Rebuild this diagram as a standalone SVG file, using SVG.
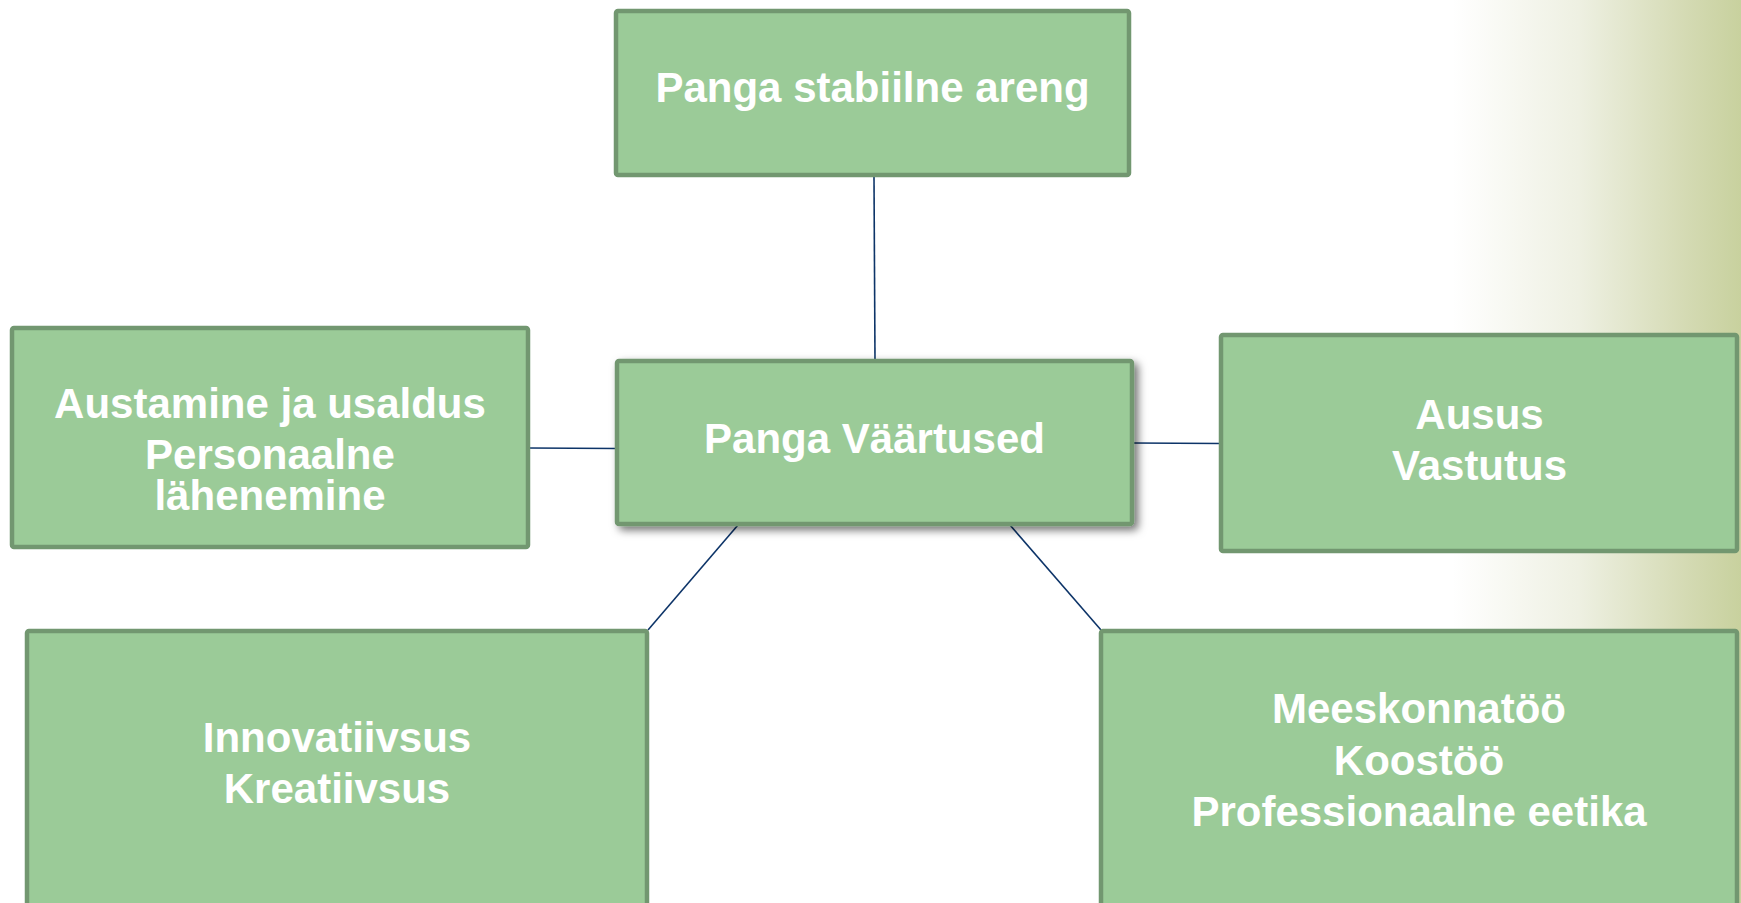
<svg xmlns="http://www.w3.org/2000/svg" width="1741" height="903" viewBox="0 0 1741 903">
<defs>
<linearGradient id="bg" x1="0" y1="0" x2="1" y2="0" gradientUnits="objectBoundingBox">
<stop offset="0" stop-color="#ffffff"/>
<stop offset="0.2" stop-color="#ffffff"/>
<stop offset="0.55" stop-color="#eef0e2"/>
<stop offset="0.85" stop-color="#d4dab3"/>
<stop offset="1" stop-color="#c8d19e"/>
</linearGradient>
<filter id="sh" x="-10%" y="-20%" width="125%" height="150%">
<feDropShadow dx="4" dy="4" stdDeviation="4" flood-color="#000" flood-opacity="0.55"/>
</filter>
<style>
.box{fill:#9bcb98;stroke:#729770;stroke-width:4.5}
.t{font-family:"Liberation Sans",Arial,sans-serif;font-weight:bold;font-size:42px;fill:#ffffff;text-anchor:middle}
.c{stroke:#0d3468;stroke-width:1.6;fill:none}
</style>
</defs>
<rect x="0" y="0" width="1741" height="903" fill="#ffffff"/>
<rect x="1380" y="0" width="361" height="903" fill="url(#bg)"/>
<g id="connectors">
<line class="c" x1="874" y1="177" x2="875" y2="361"/>
<line class="c" x1="528" y1="448" x2="617" y2="448.5"/>
<line class="c" x1="1132" y1="443" x2="1221" y2="443.5"/>
<line class="c" x1="738" y1="525" x2="648" y2="630"/>
<line class="c" x1="1010" y1="525" x2="1101" y2="630"/>
</g>
<g id="node-top">
<rect class="box" x="616" y="11" width="513" height="164" rx="2"/>
<text class="t" x="872.5" y="102">Panga stabiilne areng</text>
</g>
<g id="node-center">
<rect class="box" x="617" y="361" width="515" height="163" rx="2" filter="url(#sh)"/>
<text class="t" x="874.5" y="453">Panga Väärtused</text>
</g>
<g id="node-left">
<rect class="box" x="12" y="328" width="516" height="219" rx="2"/>
<text class="t" x="270" y="418">Austamine ja usaldus</text>
<text class="t" x="270" y="469">Personaalne</text>
<text class="t" x="270" y="510">lähenemine</text>
</g>
<g id="node-right">
<rect class="box" x="1221" y="335" width="516" height="216" rx="2"/>
<text class="t" x="1479.5" y="429">Ausus</text>
<text class="t" x="1479.5" y="480">Vastutus</text>
</g>
<g id="node-bottom-left">
<rect class="box" x="27" y="631" width="620" height="290" rx="2"/>
<text class="t" x="337" y="752">Innovatiivsus</text>
<text class="t" x="337" y="803">Kreatiivsus</text>
</g>
<g id="node-bottom-right">
<rect class="box" x="1101" y="631" width="636" height="290" rx="2"/>
<text class="t" x="1419" y="723">Meeskonnatöö</text>
<text class="t" x="1419" y="775">Koostöö</text>
<text class="t" x="1419" y="826">Professionaalne eetika</text>
</g>
</svg>
